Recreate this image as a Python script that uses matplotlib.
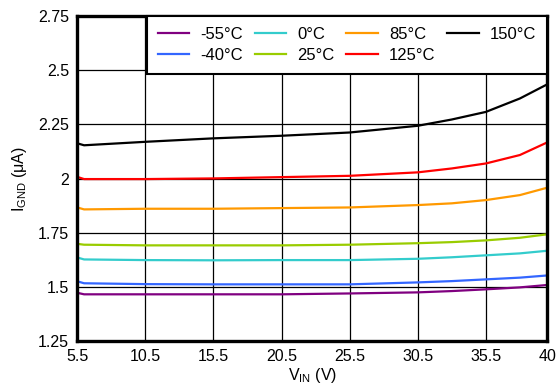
import matplotlib as mpl
import matplotlib.pyplot as plt

# supply voltage (V)
vin = [5.5, 6, 10.5, 15.5, 20.5, 25.5, 30.5, 33, 35.5, 38, 40]

# ground current (uA) per temperature
i_m55 = [1.473, 1.466, 1.466, 1.466, 1.466, 1.470, 1.475, 1.481, 1.489, 1.498, 1.509]
i_m40 = [1.526, 1.517, 1.513, 1.512, 1.512, 1.512, 1.521, 1.527, 1.535, 1.543, 1.553]
i_0 = [1.636, 1.627, 1.624, 1.623, 1.624, 1.624, 1.630, 1.637, 1.646, 1.655, 1.667]
i_25 = [1.699, 1.695, 1.692, 1.692, 1.692, 1.695, 1.702, 1.707, 1.715, 1.727, 1.743]
i_85 = [1.867, 1.858, 1.861, 1.861, 1.864, 1.867, 1.878, 1.886, 1.901, 1.924, 1.958]
i_125 = [2.008, 1.998, 1.998, 2.001, 2.007, 2.013, 2.029, 2.047, 2.070, 2.109, 2.167]
i_150 = [2.163, 2.154, 2.170, 2.186, 2.198, 2.213, 2.244, 2.273, 2.308, 2.370, 2.435]

labels = ['-55°C', '-40°C', '0°C', '25°C', '85°C', '125°C', '150°C']
series = [i_m55, i_m40, i_0, i_25, i_85, i_125, i_150]
colors = ['#800080', '#3366ff', '#33cccc', '#99cc00', '#ff9900', '#ff0000', '#000000']

xticks = [5.5, 10.5, 15.5, 20.5, 25.5, 30.5, 35.5, 40]
xticklabels = ['5.5', '10.5', '15.5', '20.5', '25.5', '30.5', '35.5', '40']
yticks = [1.25, 1.5, 1.75, 2, 2.25, 2.5, 2.75]
yticklabels = ['1.25', '1.5', '1.75', '2', '2.25', '2.5', '2.75']

mpl.rcParams['font.family'] = ['Liberation Sans', 'DejaVu Sans']
mpl.rcParams['font.size'] = 11.5

dpi = 100
fig = plt.figure(dpi=dpi, figsize=(556 / dpi, 385 / dpi))
ax = fig.add_subplot(111)
fig.subplots_adjust(left=0.139, right=0.984, bottom=0.114, top=0.958)

for y, lab, c in zip(series, labels, colors):
    ax.plot(vin, y, color=c, lw=1.6, label=lab)

ax.set_xlim(5.5, 40)
ax.set_ylim(1.25, 2.75)
ax.set_xticks(xticks)
ax.set_xticklabels(xticklabels)
ax.set_yticks(yticks)
ax.set_yticklabels(yticklabels)
ax.tick_params(length=0, pad=6)
ax.grid(True, color='black', lw=0.9)
ax.set_axisbelow(True)
for sp in ax.spines.values():
    sp.set_linewidth(2.4)

ax.set_xlabel(r'V$_\mathregular{IN}$ (V)', labelpad=1)
ax.set_ylabel(r'I$_\mathregular{GND}$ ($\mathregular{\mu}$A)', labelpad=6)

leg = ax.legend(loc='upper right', ncol=4, fontsize=12, borderaxespad=0,
                handlelength=1.9, handletextpad=0.65, columnspacing=0.72,
                labelspacing=0.35, borderpad=0.65, fancybox=False, framealpha=1)
leg.get_frame().set_edgecolor('black')
leg.get_frame().set_linewidth(1.5)

fig.savefig('out.png')
